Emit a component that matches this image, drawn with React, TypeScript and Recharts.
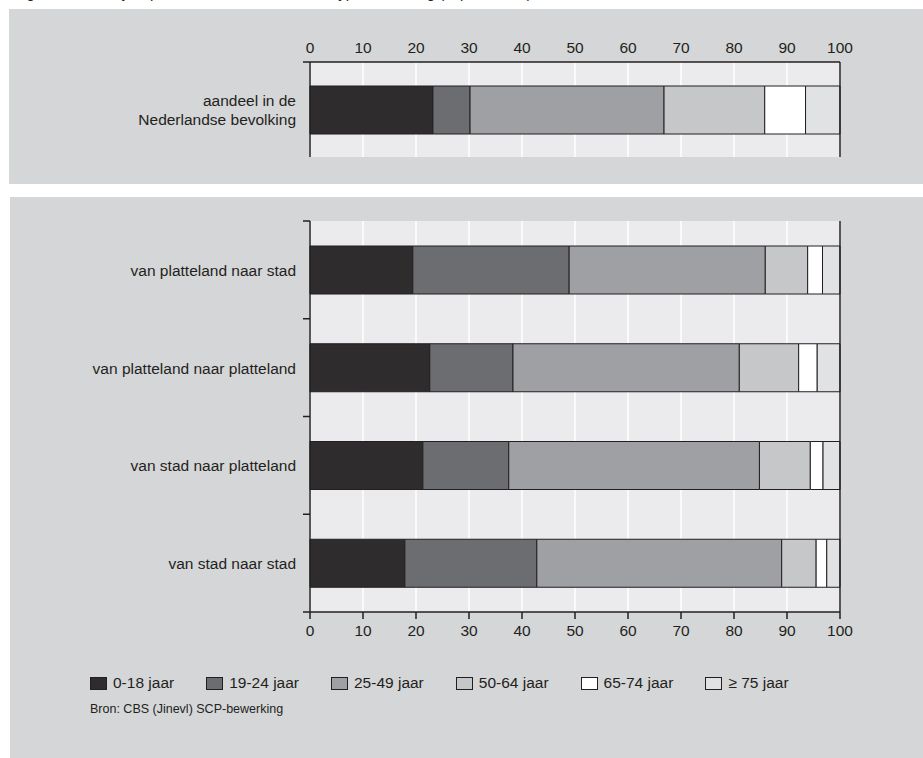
import React from 'react';
import { BarChart, Bar, XAxis, YAxis, CartesianGrid, ReferenceLine } from 'recharts';

// age groups (series)
const AGE_GROUPS = ['0-18 jaar', '19-24 jaar', '25-49 jaar', '50-64 jaar', '65-74 jaar', '≥ 75 jaar'];
const AGE_KEYS = ['a0_18', 'a19_24', 'a25_49', 'a50_64', 'a65_74', 'a75'];

// top panel
const TOP_CATEGORIES = ['aandeel in de\nNederlandse bevolking'];
const TOP_VALUES = [23.2, 7.0, 36.6, 19.0, 7.7, 6.5];

// bottom panel
const MOVE_CATEGORIES = [
  'van platteland naar stad',
  'van platteland naar platteland',
  'van stad naar platteland',
  'van stad naar stad',
];
const PLATTELAND_STAD = [19.4, 29.5, 37.0, 8.0, 2.8, 3.3];
const PLATTELAND_PLATTELAND = [22.6, 15.7, 42.7, 11.2, 3.5, 4.3];
const STAD_PLATTELAND = [21.3, 16.2, 47.3, 9.6, 2.4, 3.2];
const STAD_STAD = [17.9, 24.9, 46.2, 6.5, 2.0, 2.5];

const X_TICKS = [0, 10, 20, 30, 40, 50, 60, 70, 80, 90, 100];

const COLORS = ['#2e2c2d', '#6c6d71', '#9fa0a4', '#c6c7c9', '#ffffff', '#e1e2e4'];
const INK = '#231f20';
const PANEL = '#d5d6d8';
const PLOT = '#ebebed';
const FONT = "'Liberation Sans', Arial, sans-serif";

const toRow = (name: string, values: number[]) => {
  const row: any = { name };
  AGE_KEYS.forEach((k, i) => (row[k] = values[i]));
  return row;
};

const topData = [toRow(TOP_CATEGORIES[0], TOP_VALUES)];
const moveData = [PLATTELAND_STAD, PLATTELAND_PLATTELAND, STAD_PLATTELAND, STAD_STAD].map((v, i) =>
  toRow(MOVE_CATEGORIES[i], v)
);

// category label + boundary tick marks
const CategoryTick = (props: any) => {
  const { x, y, payload, index, count, bottomTick } = props;
  const half = payload && payload.offset ? payload.offset : 0;
  const axisX = x + 14;
  const lines = String(payload.value).split('\n');
  const lh = 19;
  const startY = y - ((lines.length - 1) * lh) / 2;
  return (
    <g>
      <line x1={axisX - 7} x2={axisX} y1={y - half} y2={y - half} stroke={INK} strokeWidth={1.5} />
      {bottomTick && index === count - 1 && (
        <line x1={axisX - 7} x2={axisX} y1={y + half} y2={y + half} stroke={INK} strokeWidth={1.5} />
      )}
      <text x={x} y={startY} textAnchor="end" dominantBaseline="central" fill={INK} fontSize={15.5} fontFamily={FONT}>
        {lines.map((l, i) => (
          <tspan key={i} x={x} dy={i === 0 ? 0 : lh}>
            {l}
          </tspan>
        ))}
      </text>
    </g>
  );
};

const renderBars = () =>
  AGE_KEYS.map((k, i) => (
    <Bar
      key={k}
      dataKey={k}
      stackId="s"
      fill={COLORS[i]}
      stroke={INK}
      strokeWidth={1}
      barSize={48}
      isAnimationActive={false}
    />
  ));

const App: React.FC = () => {
  return (
    <div
      style={{
        position: 'absolute',
        left: 0,
        top: 0,
        width: 923,
        height: 758,
        background: '#fff',
        overflow: 'hidden',
        fontFamily: FONT,
        color: INK,
      }}
    >
      {/* title line, cut off at the top edge as in the source */}
      <div style={{ position: 'absolute', left: 14, top: -15, fontSize: 15, lineHeight: '16px', whiteSpace: 'nowrap' }}>
        Figuur 4.3 Leeftijdsopbouw van verhuizers naar type verhuizing (in procenten)
      </div>

      <div style={{ position: 'absolute', left: 9, top: 9, width: 914, height: 175, background: PANEL }} />
      <div style={{ position: 'absolute', left: 10, top: 197, width: 913, height: 561, background: PANEL }} />

      <div style={{ position: 'absolute', left: 0, top: 0 }}>
        <BarChart
          width={923}
          height={175}
          data={topData}
          layout="vertical"
          margin={{ top: 32, right: 83, bottom: 18, left: 0 }}
          barCategoryGap={0}
        >
          <CartesianGrid horizontal={false} stroke="#ffffff" strokeWidth={1.5} fill={PLOT} fillOpacity={1} />
          <XAxis
            type="number"
            orientation="top"
            domain={[0, 100]}
            ticks={X_TICKS}
            height={30}
            axisLine={{ stroke: INK, strokeWidth: 1.5 }}
            tickLine={false}
            tickSize={6}
            tickMargin={3}
            tick={{ fill: INK, fontSize: 15.5, fontFamily: FONT }}
            interval={0}
          />
          <YAxis
            type="category"
            dataKey="name"
            width={310}
            axisLine={{ stroke: INK, strokeWidth: 1.5 }}
            tickLine={false}
            tickSize={6}
            tickMargin={8}
            tick={<CategoryTick count={1} bottomTick={false} />}
            interval={0}
          />
          <ReferenceLine x={100} stroke={INK} strokeWidth={1.5} />
          {renderBars()}
        </BarChart>
      </div>

      <div style={{ position: 'absolute', left: 0, top: 190 }}>
        <BarChart
          width={923}
          height={470}
          data={moveData}
          layout="vertical"
          margin={{ top: 31, right: 83, bottom: 18, left: 0 }}
          barCategoryGap={0}
        >
          <CartesianGrid horizontal={false} stroke="#ffffff" strokeWidth={1.5} fill={PLOT} fillOpacity={1} />
          <XAxis
            type="number"
            orientation="bottom"
            domain={[0, 100]}
            ticks={X_TICKS}
            height={30}
            axisLine={{ stroke: INK, strokeWidth: 1.5 }}
            tickLine={{ stroke: INK, strokeWidth: 1.5 }}
            tickSize={7}
            tickMargin={6}
            tick={{ fill: INK, fontSize: 15.5, fontFamily: FONT }}
            interval={0}
          />
          <YAxis
            type="category"
            dataKey="name"
            width={310}
            axisLine={{ stroke: INK, strokeWidth: 1.5 }}
            tickLine={false}
            tickSize={6}
            tickMargin={8}
            tick={<CategoryTick count={MOVE_CATEGORIES.length} bottomTick={true} />}
            interval={0}
          />
          <ReferenceLine x={100} stroke={INK} strokeWidth={1.5} />
          {renderBars()}
        </BarChart>
      </div>

      {/* legend */}
      <div
        style={{
          position: 'absolute',
          left: 90,
          top: 674,
          display: 'flex',
          alignItems: 'center',
          fontSize: 15.5,
          whiteSpace: 'nowrap',
        }}
      >
        {AGE_GROUPS.map((g, i) => (
          <div key={g} style={{ display: 'flex', alignItems: 'center', marginRight: 32 }}>
            <span
              style={{
                display: 'inline-block',
                width: 15,
                height: 11,
                background: COLORS[i],
                border: `1px solid ${INK}`,
                marginRight: 6,
              }}
            />
            <span>{g}</span>
          </div>
        ))}
      </div>

      <div style={{ position: 'absolute', left: 90, top: 702, fontSize: 12.5, whiteSpace: 'nowrap' }}>
        Bron: CBS (Jinevl) SCP-bewerking
      </div>
    </div>
  );
};

export default App;
